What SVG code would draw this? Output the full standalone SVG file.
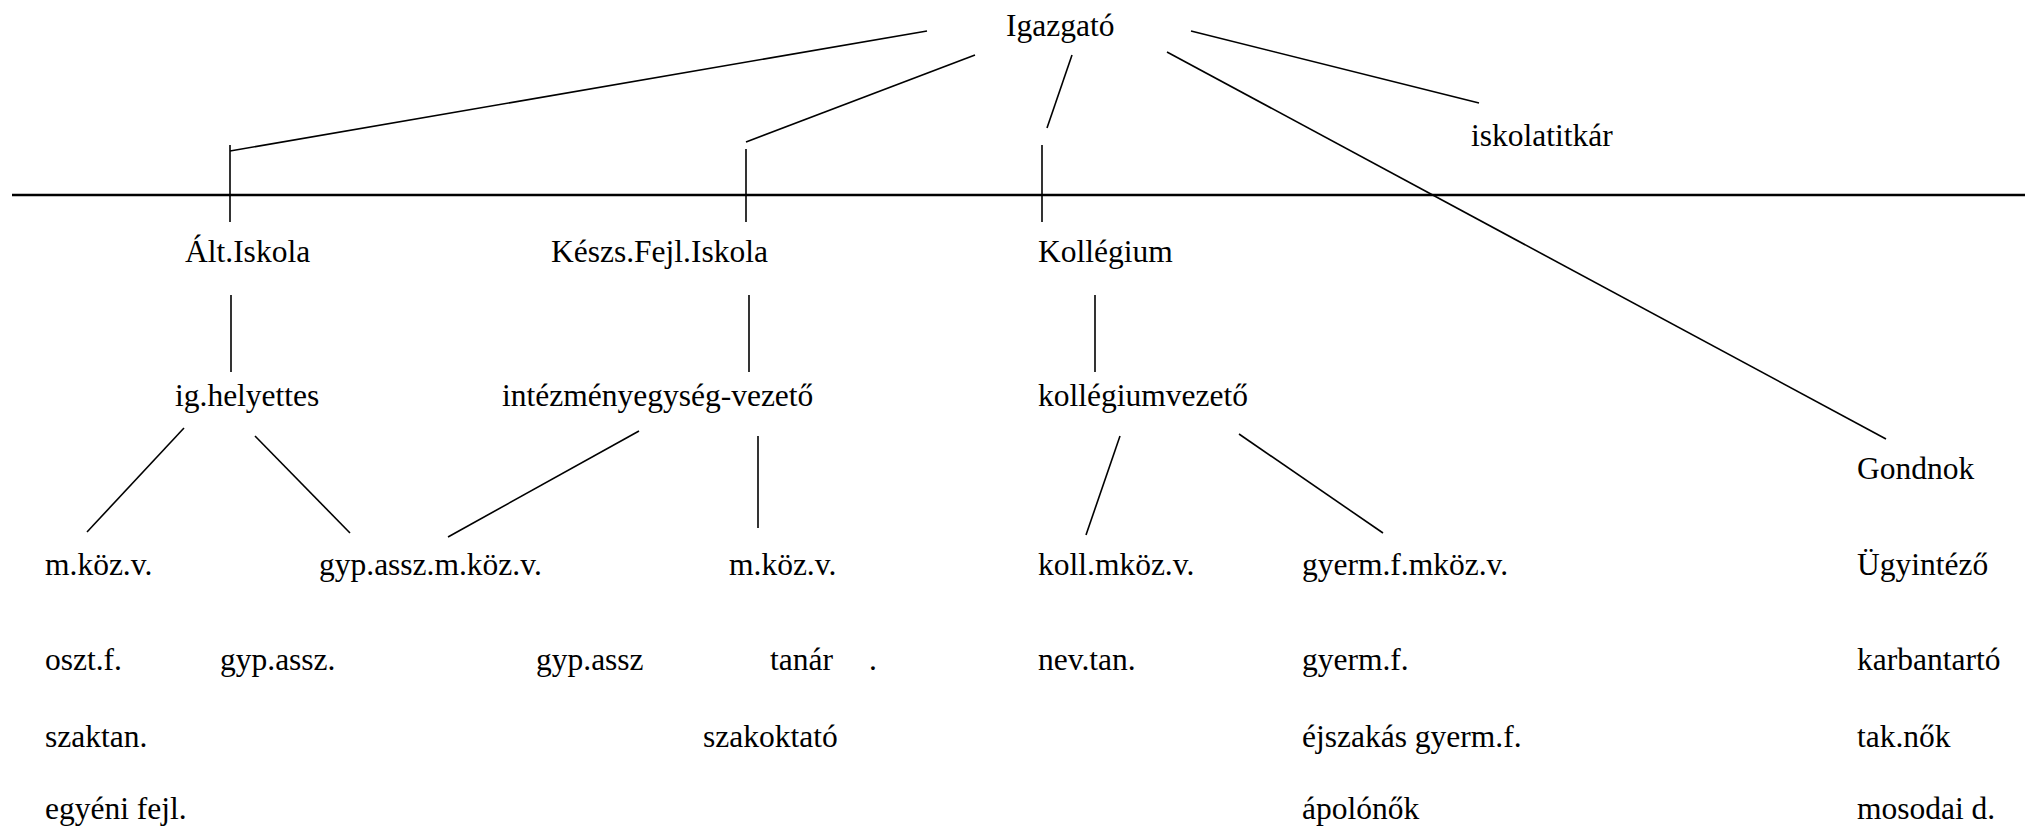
<svg xmlns="http://www.w3.org/2000/svg" width="2025" height="826" viewBox="0 0 2025 826">
<style>
text{font-family:'Liberation Serif','Times New Roman',serif;font-size:31.5px;fill:#000}
line{stroke:#000;stroke-width:1.6;fill:none}
.bar{stroke-width:2.4}
</style>
<rect width="2025" height="826" fill="#fff"/>
<g id="connectors">
<line class="bar" x1="12" y1="195" x2="2025" y2="195"/>
<line x1="927" y1="31" x2="230" y2="151"/>
<line x1="230" y1="145" x2="230" y2="222"/>
<line x1="975" y1="55" x2="746" y2="142"/>
<line x1="746" y1="149" x2="746" y2="222"/>
<line x1="1072" y1="55" x2="1047" y2="128"/>
<line x1="1042" y1="145" x2="1042" y2="222"/>
<line x1="1191" y1="31" x2="1479" y2="103"/>
<line x1="1167" y1="52" x2="1886" y2="439"/>
<line x1="231" y1="295" x2="231" y2="372"/>
<line x1="749" y1="295" x2="749" y2="372"/>
<line x1="1095" y1="295" x2="1095" y2="372"/>
<line x1="184" y1="428" x2="87" y2="532"/>
<line x1="255" y1="436" x2="350" y2="533"/>
<line x1="639" y1="431" x2="448" y2="537"/>
<line x1="758" y1="436" x2="758" y2="528"/>
<line x1="1120" y1="436" x2="1086" y2="535"/>
<line x1="1239" y1="434" x2="1383" y2="533"/>
</g>
<g id="igazgato"><text x="1006" y="36">Igazgató</text></g>
<g id="iskolatitkar"><text x="1471" y="146">iskolatitkár</text></g>
<g id="alt-iskola"><text x="185" y="262">Ált.Iskola</text></g>
<g id="keszs-fejl-iskola"><text x="551" y="262">Készs.Fejl.Iskola</text></g>
<g id="kollegium"><text x="1038" y="262">Kollégium</text></g>
<g id="ig-helyettes"><text x="175" y="406">ig.helyettes</text></g>
<g id="intezmenyegyseg-vezeto"><text x="502" y="406">intézményegység-vezető</text></g>
<g id="kollegiumvezeto"><text x="1038" y="406">kollégiumvezető</text></g>
<g id="gondnok"><text x="1857" y="479">Gondnok</text></g>
<g id="m-koz-v-1"><text x="45" y="575">m.köz.v.</text></g>
<g id="gyp-assz-m-koz-v"><text x="319" y="575">gyp.assz.m.köz.v.</text></g>
<g id="m-koz-v-2"><text x="729" y="575">m.köz.v.</text></g>
<g id="koll-mkoz-v"><text x="1038" y="575">koll.mköz.v.</text></g>
<g id="gyerm-f-mkoz-v"><text x="1302" y="575">gyerm.f.mköz.v.</text></g>
<g id="ugyintezo"><text x="1857" y="575">Ügyintéző</text></g>
<g id="alt-staff">
<text x="45" y="670">oszt.f.</text>
<text x="45" y="747">szaktan.</text>
<text x="45" y="819">egyéni fejl.</text>
</g>
<g id="gyp-assz-1"><text x="220" y="670">gyp.assz.</text></g>
<g id="gyp-assz-2"><text x="536" y="670">gyp.assz</text></g>
<g id="keszs-staff">
<text x="770" y="670">tanár</text>
<text x="869" y="670">.</text>
<text x="703" y="747">szakoktató</text>
</g>
<g id="nev-tan"><text x="1038" y="670">nev.tan.</text></g>
<g id="gyerm-staff">
<text x="1302" y="670">gyerm.f.</text>
<text x="1302" y="747">éjszakás gyerm.f.</text>
<text x="1302" y="819">ápolónők</text>
</g>
<g id="gondnok-staff">
<text x="1857" y="670">karbantartó</text>
<text x="1857" y="747">tak.nők</text>
<text x="1857" y="819">mosodai d.</text>
</g>
</svg>
